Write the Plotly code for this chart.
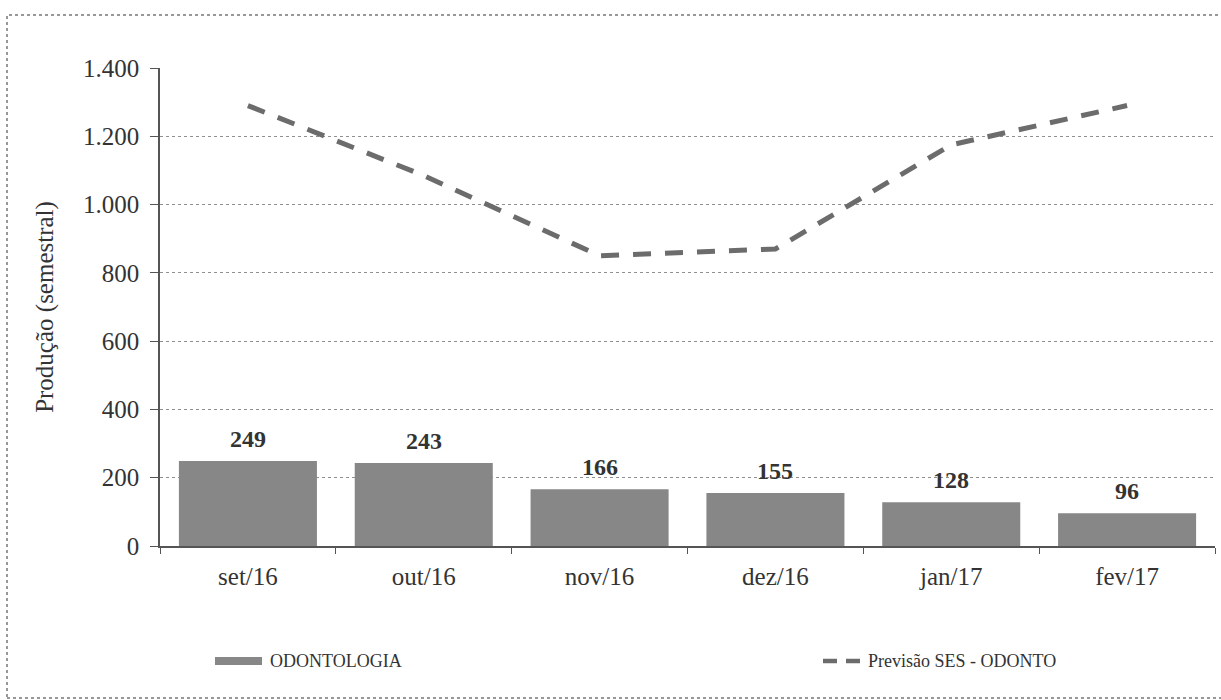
import plotly.graph_objects as go

# Monthly dental production vs. SES forecast
months = ["set/16", "out/16", "nov/16", "dez/16", "jan/17", "fev/17"]
odontologia = [249, 243, 166, 155, 128, 96]
previsao_ses = [1290, 1085, 850, 870, 1175, 1290]
y_ticks = [0, 200, 400, 600, 800, 1000, 1200, 1400]

bar_name = "ODONTOLOGIA"
line_name = "Previsão SES - ODONTO"
y_title = "Produção (semestral)"

SERIF = "Liberation Serif"
BAR_COLOR = "#878787"
LINE_COLOR = "#6c6c6c"
TEXT_COLOR = "#333333"

# plot area in pixels: x 160..1215, y 68..546
L, R, T, B = 160, 6, 68, 154
W, H = 1221, 700
PW, PH = W - L - R, H - T - B


def px_x(p):
    return (p - L) / PW


def px_y(p):
    return (H - B - p) / PH


fig = go.Figure()

fig.add_trace(go.Bar(
    x=months, y=odontologia, name=bar_name,
    marker=dict(color=BAR_COLOR, line=dict(width=0)),
    showlegend=False,
))

fig.add_trace(go.Scatter(
    x=months, y=previsao_ses, name=line_name, mode="lines",
    line=dict(color=LINE_COLOR, width=5, dash="18px,14px"),
    showlegend=False,
))

# value labels above the bars
for m, v in zip(months, odontologia):
    fig.add_annotation(
        x=m, y=v, text=str(v), showarrow=False, yanchor="middle", yshift=22,
        font=dict(family=SERIF, size=24, color=TEXT_COLOR, weight="bold"),
    )

# legend drawn below the plot
leg_y = px_y(661)
fig.add_shape(type="rect", xref="paper", yref="paper",
              x0=px_x(215), x1=px_x(262), y0=px_y(665), y1=px_y(657),
              fillcolor=BAR_COLOR, line=dict(width=0))
fig.add_annotation(xref="paper", yref="paper", x=px_x(268), y=leg_y,
                   text=bar_name, showarrow=False, xanchor="left", yanchor="middle",
                   font=dict(family=SERIF, size=18, color=TEXT_COLOR))
fig.add_shape(type="line", xref="paper", yref="paper",
              x0=px_x(823), x1=px_x(860), y0=leg_y, y1=leg_y,
              line=dict(color=LINE_COLOR, width=4.5, dash="14px,9px"))
fig.add_annotation(xref="paper", yref="paper", x=px_x(866), y=leg_y,
                   text=line_name, showarrow=False, xanchor="left", yanchor="middle",
                   font=dict(family=SERIF, size=18, color=TEXT_COLOR))

# dotted frame around the chart
fig.add_shape(type="rect", xref="paper", yref="paper",
              x0=px_x(7), x1=px_x(1225), y0=px_y(698), y1=px_y(15),
              line=dict(color="#777777", width=1.5, dash="dot"),
              fillcolor="rgba(0,0,0,0)", layer="below")

fig.update_layout(
    width=W, height=H,
    margin=dict(l=L, r=R, t=T, b=B, pad=0),
    paper_bgcolor="white", plot_bgcolor="white",
    separators=",.",
    bargap=0.215,
    font=dict(family=SERIF, color=TEXT_COLOR),
    showlegend=False,
)

fig.update_xaxes(
    type="category", showline=True, linecolor="#555555", linewidth=1.5,
    ticks="outside", tickson="boundaries", ticklen=6, tickcolor="#555555",
    tickfont=dict(family=SERIF, size=25, color=TEXT_COLOR),
    showgrid=False, ticklabelstandoff=7,
)

fig.update_yaxes(
    range=[0, 1400], tickvals=y_ticks, tickformat=",d",
    showline=True, linecolor="#555555", linewidth=1.5,
    ticks="outside", ticklen=8, tickcolor="#555555",
    tickfont=dict(family=SERIF, size=25, color=TEXT_COLOR),
    ticklabelstandoff=6,
    showgrid=True, gridcolor="#8f8f8f", gridwidth=1, griddash="dot",
    zeroline=False,
    title=dict(text=y_title, standoff=22,
               font=dict(family=SERIF, size=25, color=TEXT_COLOR)),
)

fig.write_html("out.html")
